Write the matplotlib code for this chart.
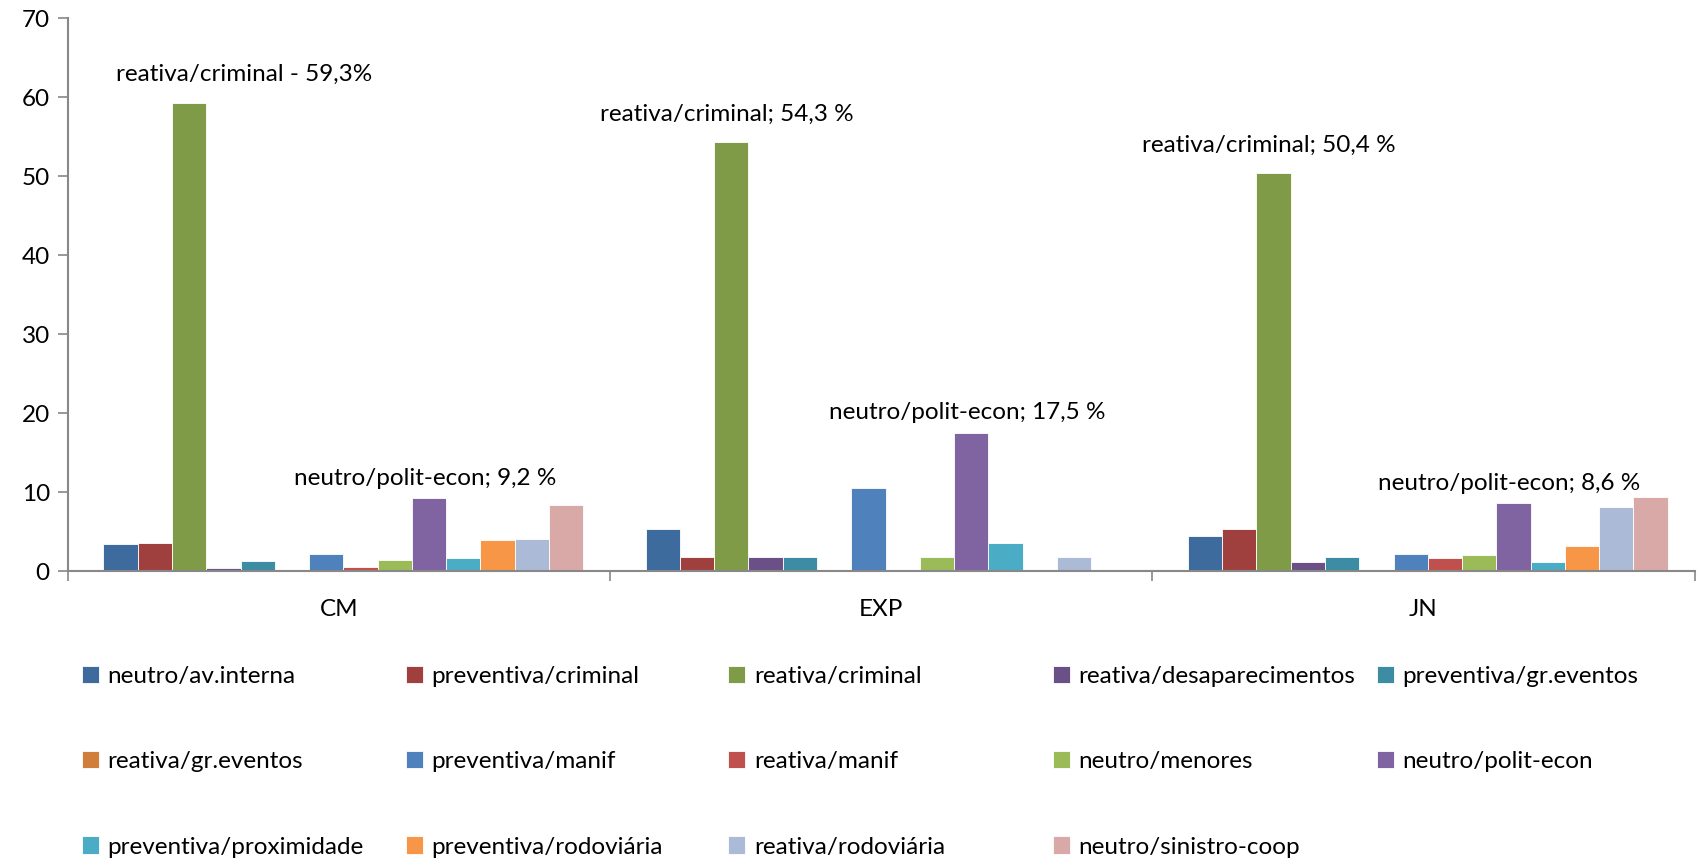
import matplotlib.pyplot as plt
import numpy as np

plt.rcParams['font.family'] = ['Lato', 'DejaVu Sans']

groups = ['CM', 'EXP', 'JN']
series = ['neutro/av.interna', 'preventiva/criminal', 'reativa/criminal',
          'reativa/desaparecimentos', 'preventiva/gr.eventos', 'reativa/gr.eventos',
          'preventiva/manif', 'reativa/manif', 'neutro/menores', 'neutro/polit-econ',
          'preventiva/proximidade', 'preventiva/rodoviária', 'reativa/rodoviária',
          'neutro/sinistro-coop']
colors = ['#3E6B9E', '#A0403E', '#809B48', '#6A5087', '#3C8DA3', '#D07E3A',
          '#4F81BD', '#C0504D', '#9BBB59', '#8064A2', '#4BACC6', '#F79646',
          '#AABAD7', '#D9A9A8']

cm_vals = [3.4, 3.6, 59.3, 0.4, 1.3, 0.1, 2.1, 0.5, 1.4, 9.2, 1.6, 3.9, 4.0, 8.3]
exp_vals = [5.3, 1.8, 54.3, 1.8, 1.8, 0.0, 10.5, 0.0, 1.8, 17.5, 3.5, 0.0, 1.8, 0.0]
jn_vals = [4.4, 5.3, 50.4, 1.2, 1.8, 0.1, 2.2, 1.6, 2.0, 8.6, 1.2, 3.2, 8.1, 9.4]

labels_top = ['reativa/criminal - 59,3%', 'reativa/criminal; 54,3 %', 'reativa/criminal; 50,4 %']
labels_pol = ['neutro/polit-econ; 9,2 %', 'neutro/polit-econ; 17,5 %', 'neutro/polit-econ; 8,6 %']
top_dx = [0.11, 0.0, 0.0]

data = np.array([cm_vals, exp_vals, jn_vals])  # groups x series

fig = plt.figure(figsize=(16.98, 8.6), dpi=100)
ax = fig.add_axes([0.040, 0.336, 0.958, 0.643])

n = len(series)
gap = 0.115
bw = (1 - gap) / n
x = np.arange(len(groups))
handles = []
for i, (name, col) in enumerate(zip(series, colors)):
    pos = x - 0.5 + gap / 2 + bw * (i + 0.5) + 0.008
    b = ax.bar(pos, data[:, i], width=bw, color=col, label=name,
               edgecolor='white', linewidth=0.6)
    handles.append(b)

# data labels
fs = 17.5
for g in range(len(groups)):
    pos_g = x[g] - 0.5 + gap / 2 + bw * 2.5
    ax.text(pos_g + top_dx[g], data[g, 2] + 2.2, labels_top[g], ha='center',
            va='bottom', fontsize=fs)
    pos_p = x[g] - 0.5 + gap / 2 + bw * 9.5
    ax.text(pos_p, data[g, 9] + 1.2, labels_pol[g], ha='center',
            va='bottom', fontsize=fs)

ax.set_xlim(-0.5, 2.5)
ax.set_ylim(0, 70)
ax.set_yticks(range(0, 71, 10))
ax.set_xticks([-0.5, 0.5, 1.5, 2.5])
ax.set_xticklabels([])
ax.set_xticks(x, minor=True)
ax.set_xticklabels(groups, minor=True)
ax.tick_params(axis='x', which='major', length=7, color='#888888', width=1.2)
ax.tick_params(axis='x', which='minor', length=0, labelsize=fs, pad=20)
ax.tick_params(axis='y', length=7, color='#888888', width=1.2, labelsize=fs, pad=6)
for s in ['top', 'right']:
    ax.spines[s].set_visible(False)
for s in ['left', 'bottom']:
    ax.spines[s].set_color('#888888')
    ax.spines[s].set_linewidth(1.5)

# legend: 5 columns, filled row by row, fixed column positions
col_x = [0.048, 0.239, 0.429, 0.620, 0.811]
for c in range(5):
    idx = [k for k in range(c, n, 5)]
    leg = fig.legend([handles[k] for k in idx], [series[k] for k in idx],
                     loc='upper left', bbox_to_anchor=(col_x[c], 0.226),
                     frameon=False, fontsize=fs, handlelength=0.7,
                     handleheight=0.7, handletextpad=0.35, labelspacing=2.65,
                     borderaxespad=0, borderpad=0)

plt.savefig('out.png', dpi=100)
